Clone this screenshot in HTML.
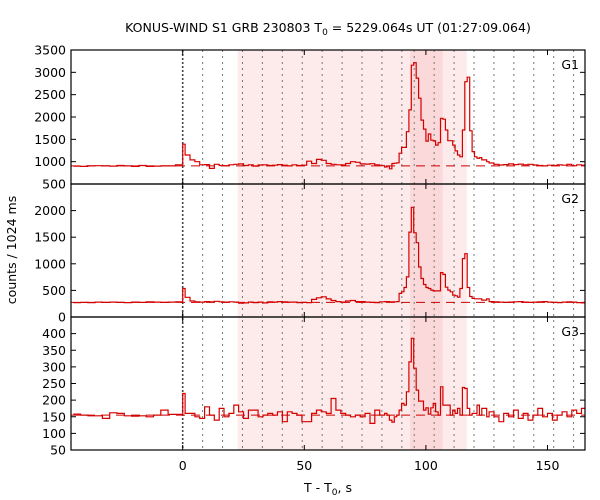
<!DOCTYPE html>
<html><head><meta charset="utf-8">
<style>
html,body{margin:0;padding:0;background:#fff;}
svg{display:block;font-family:"DejaVu Sans","Liberation Sans",sans-serif;}
</style></head>
<body>
<svg id="chart" width="600" height="500" viewBox="0 0 600 500"></svg>
<script>
// ---- data ----
const binStarts = [-45,-42,-39,-36,-33,-30,-27,-24,-21,-18,-15,-12,-9,-6,-3,
 0,
 1,3,5,7,9,11,13,15,17,19,21,23,25,27,29,31,33,35,37,39,41,43,45,47,49,51,53,55,57,59,61,63,65,67,69,71,73,75,77,79,81,83,
 84,85,86,87,88,89,90,91,92,93,94,95,96,97,98,99,100,101,102,103,104,105,106,107,108,109,110,111,112,113,114,115,116,117,118,119,120,121,122,123,124,125,
 126,128,130,132,134,136,138,140,142,144,146,148,150,152,154,156,158,160,162,164];
const g1Values = [900,895,905,910,905,900,915,905,895,915,895,900,905,905,930,
 1390,
 1150,1040,1000,930,935,850,940,915,910,930,940,950,915,930,900,925,930,915,920,935,920,905,930,915,920,1010,960,1050,1030,960,940,930,925,960,1000,985,950,945,955,930,910,880,
 900,840,960,965,975,1190,1320,1320,1670,2160,3160,3216,2870,2420,1930,1730,1460,1620,1480,1465,1370,1425,1970,1950,1710,1470,1470,1370,1240,1150,1110,1710,2790,2890,1690,1225,1110,1075,1090,1040,1040,1000,
 970,940,925,935,950,935,945,930,940,925,915,905,920,915,930,920,940,910,930,920];
const g2Values = [270,275,270,280,275,280,275,270,280,275,285,280,275,280,285,
 536,
 370,300,285,280,290,285,295,285,280,285,280,260,265,280,270,280,265,285,280,290,285,280,280,270,275,270,330,360,380,340,310,290,280,300,310,290,290,280,275,270,285,290,
 290,285,285,285,290,443,473,555,754,1595,2062,1583,1396,940,723,611,555,536,505,491,491,491,835,800,561,505,473,411,398,375,536,1097,1190,555,386,350,343,343,343,318,318,343,
 290,285,280,275,280,285,290,280,275,280,285,290,280,275,270,280,285,280,270,265];
const g3Values = [158,155,153,153,145,162,160,153,152,153,150,155,170,157,157,
 220,
 160,160,150,145,180,155,140,175,150,160,185,165,145,170,170,150,155,160,155,165,135,165,160,155,135,135,160,170,165,160,205,170,160,155,150,155,150,160,130,170,155,160,
 155,140,134,150,155,170,190,185,225,315,386,296,230,197,197,170,177,158,177,190,165,155,240,185,185,185,155,170,160,175,155,238,235,175,155,160,160,185,155,175,175,150,
 165,150,135,160,150,170,145,160,140,155,175,150,160,140,155,165,150,170,160,175];
const backgroundLevels = [905,275,155];
const panelNames = ["G1","G2","G3"];
const panelYMin = [500,0,50];
const panelYMax = [3500,2500,450];
const g1Ticks = [500,1000,1500,2000,2500,3000,3500];
const g2Ticks = [0,500,1000,1500,2000];
const g3Ticks = [50,100,150,200,250,300,350,400];
const xTicks = [0,50,100,150];
const gridTimesA = [8.192,16.384,24.576,32.768,40.96,49.152,57.344,65.536,73.728,81.92,90.112];
const gridTimesB = [95.2,103.392,111.584,119.776,127.968,136.16,144.352,152.544,160.736];
const lightShade = [22.6,116.8];
const darkShade = [93.5,106.9];

// ---- layout ----
const NS="http://www.w3.org/2000/svg";
const svg=document.getElementById('chart');
const L=71,R=585;
const panelTops=[50,184,317], panelBots=[184,317,450];
const xMin=(L-182.7)/2.432, xMax=(R-182.7)/2.432;
function xs(t){return L+(t-xMin)/(xMax-xMin)*(R-L);}
function ys(p,v){return panelBots[p]-(v-panelYMin[p])/(panelYMax[p]-panelYMin[p])*(panelBots[p]-panelTops[p]);}
function mk(tag,attrs,parent){const e=document.createElementNS(NS,tag);for(const k in attrs)e.setAttribute(k,attrs[k]);(parent||svg).appendChild(e);return e;}

const defs=mk('defs',{});
const cp=mk('clipPath',{id:'plotclip'},defs);
mk('rect',{x:L,y:50,width:R-L,height:400},cp);

let s=mk('rect',{x:xs(lightShade[0]),y:50,width:xs(lightShade[1])-xs(lightShade[0]),height:400,fill:'#fdeaea'});


s=mk('rect',{x:xs(darkShade[0]),y:50,width:xs(darkShade[1])-xs(darkShade[0]),height:400,fill:'#fbd9da'});



gridTimesA.concat(gridTimesB).forEach(t=>{
  const l=mk('line',{x1:xs(t),x2:xs(t),y1:50,y2:450,stroke:'#777','stroke-width':1,'stroke-dasharray':'2,4'});
  
  
});
let tz=mk('line',{x1:xs(0),x2:xs(0),y1:50,y2:450,stroke:'#444','stroke-width':1.6,'stroke-dasharray':'2,2'});



const allValues=[g1Values,g2Values,g3Values];
const allTicks=[g1Ticks,g2Ticks,g3Ticks];
for(let p=0;p<3;p++){
  const g=mk('g',{'clip-path':'url(#plotclip)'});
  
  
  const by=ys(p,backgroundLevels[p]);
  const bl=mk('line',{x1:L,x2:R,y1:by,y2:by,stroke:'#cc0000','stroke-width':1,'stroke-dasharray':'9,6'},g);
  
  
  const vals=allValues[p];
  let d='';
  for(let i=0;i<binStarts.length;i++){
    const x1=xs(binStarts[i]);
    const x2=xs(i+1<binStarts.length?binStarts[i+1]:binStarts[i]+2);
    const y=ys(p,vals[i]);
    d+=(i===0?'M':'L')+x1.toFixed(1)+','+y.toFixed(1)+'L'+x2.toFixed(1)+','+y.toFixed(1);
  }
  const path=mk('path',{d:d,fill:'none',stroke:'#d40000','stroke-width':1.2},g);
  
  
  allTicks[p].forEach(v=>{
    const y=ys(p,v);
    mk('line',{x1:L,x2:L+5,y1:y,y2:y,stroke:'#000'});
    mk('line',{x1:R-5,x2:R,y1:y,y2:y,stroke:'#000'});
    const tx=mk('text',{x:66,y:y+4.5,'text-anchor':'end','font-size':12.5,fill:'#000'});
    tx.textContent=v;
    
    
  });
  xTicks.forEach(t=>{
    const x=xs(t);
    mk('line',{x1:x,x2:x,y1:panelTops[p],y2:panelTops[p]+5,stroke:'#000'});
    mk('line',{x1:x,x2:x,y1:panelBots[p]-5,y2:panelBots[p],stroke:'#000'});
  });
  const lab=mk('text',{x:579,y:panelTops[p]+19,'text-anchor':'end','font-size':12.5,fill:'#000'});
  lab.textContent=panelNames[p];
  
  
  const fr=mk('rect',{x:L,y:panelTops[p],width:R-L,height:panelBots[p]-panelTops[p],fill:'none',stroke:'#000','stroke-width':1.2});
  
  
}
xTicks.forEach(t=>{
  const tx=mk('text',{x:xs(t),y:470,'text-anchor':'middle','font-size':12.5,fill:'#000'});
  tx.textContent=t;
  
  
});
</script>
<div style="position:absolute;left:0;top:0;width:600px;height:500px;pointer-events:none;">
<svg width="600" height="500" style="position:absolute;left:0;top:0;">
<text x="328" y="32" text-anchor="middle" font-size="12.5">KONUS-WIND S1 GRB 230803 T<tspan font-size="9" dy="3">0</tspan><tspan dy="-3"> = 5229.064s UT (01:27:09.064)</tspan></text>
<text x="328" y="492" text-anchor="middle" font-size="12.5">T - T<tspan font-size="9" dy="3">0</tspan><tspan dy="-3">, s</tspan></text>
<text transform="translate(16,250) rotate(-90)" text-anchor="middle" font-size="12.5">counts / 1024 ms</text>
</svg>
</div>
</body></html>
